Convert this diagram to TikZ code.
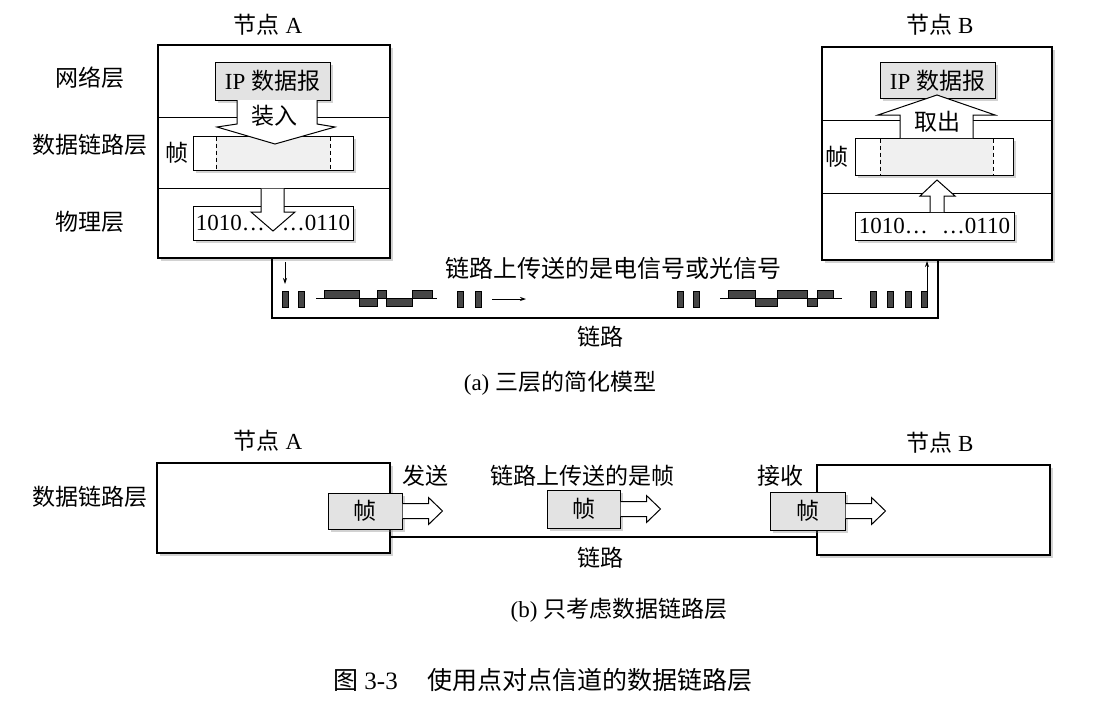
\documentclass[tikz,border=0pt]{standalone}
\usepackage{fontspec}
\setmainfont{Liberation Serif}
\newfontfamily\cjk{Noto Sans CJK SC}
\newcommand{\zh}[1]{{\cjk #1}}
\usetikzlibrary{shadows,arrows.meta}
\begin{document}
\begin{tikzpicture}[x=1pt,y=-1pt,
  lbl/.style={font=\fontsize{23}{27}\selectfont, inner sep=0},
  captxt/.style={font=\fontsize{25}{29}\selectfont, inner sep=0},
  sh/.style={drop shadow={shadow xshift=2.5pt,shadow yshift=-2.5pt,opacity=.35}},
  outer/.style={draw, line width=1.2pt, fill=white, inner sep=0, sh},
  inbox/.style={draw, line width=1pt, fill=white, inner sep=0, sh},
  gbox/.style={draw, line width=1pt, fill=gray!22, inner sep=0, sh, font=\fontsize{23}{27}\selectfont},
  harrow/.style={draw, line width=1pt, fill=white, line join=miter},
  link/.style={line width=2.4pt},
  sig/.style={fill=gray!55!black, draw=black, line width=0.4pt},
  thinarr/.style={line width=0.8pt, -{Stealth[length=6pt,width=4pt]}},
  dsh/.style={dash pattern=on 4pt off 3pt, line width=1pt},
]
\useasboundingbox (0,0) rectangle (1120,702);
\fill[white] (0,0) rectangle (1120,702);

% ===================== (a) =====================
\node[lbl] (tA) at (268,25) {\zh{节点} A};
\node[lbl] (tB) at (940,25) {\zh{节点} B};
\node[lbl] (lNet) at (90,78) {\zh{网络层}};
\node[lbl] (lDL) at (90,145) {\zh{数据链路层}};
\node[lbl] (lPh) at (90,222) {\zh{物理层}};

% Node A
\node[outer, minimum width=232pt, minimum height=213pt] (boxA) at (274,151.5) {};
\draw[line width=1pt] (boxA.west |- 0,117) -- (boxA.east |- 0,117);
\draw[line width=1pt] (boxA.west |- 0,188) -- (boxA.east |- 0,188);
\node[gbox, minimum width=115pt, minimum height=38pt] (ipA) at (272.5,81) {IP \zh{数据报}};
\node[inbox, minimum width=160pt, minimum height=34pt] (frameA) at (273,153) {};
\fill[gray!12] (216,136.5) rectangle (330,169.5);
\draw[dsh] (216,136.5) -- (216,169.5) (330,136.5) -- (330,169.5);
\draw[harrow] (237,100) -- (237,124) -- (217,127) -- (275,144) -- (335,127) -- (317,124) -- (317,100);
\node[lbl] (zr) at (274,116) {\zh{装入}};
\node[lbl] (fA) at (177,153) {\zh{帧}};
\node[inbox, minimum width=160pt, minimum height=34pt] (bitsA) at (273,223) {};
\draw[harrow] (261,188.6) -- (261,212) -- (251,212) -- (273,231) -- (295,212) -- (284,212) -- (284,188.6);
\node[lbl] (bitsAt) at (273,223) {1010…\hspace{17pt}…0110};

% Node B
\node[outer, minimum width=230pt, minimum height=213pt] (boxB) at (937,153.5) {};
\draw[line width=1pt] (boxB.west |- 0,120) -- (boxB.east |- 0,120);
\draw[line width=1pt] (boxB.west |- 0,193) -- (boxB.east |- 0,193);
\node[gbox, minimum width=115pt, minimum height=36pt] (ipB) at (937.5,80.5) {IP \zh{数据报}};
\node[inbox, minimum width=158pt, minimum height=37pt] (frameB) at (934,156.5) {};
\fill[gray!12] (880,138.5) rectangle (993,174.5);
\draw[dsh] (880,138.5) -- (880,174.5) (993,138.5) -- (993,174.5);
\draw[harrow] (900,138) -- (900,115) -- (878,115) -- (937,95) -- (995,115) -- (973,115) -- (973,138);
\node[lbl] (qc) at (937,122) {\zh{取出}};
\node[lbl] (fB) at (837,157) {\zh{帧}};
\node[inbox, minimum width=159pt, minimum height=28pt, font=\fontsize{23}{27}\selectfont] (bitsB) at (934.5,226) {1010…\hspace{14pt}…0110};
\draw[harrow] (930,212) -- (930,196) -- (920,196) -- (937,180) -- (955,196) -- (944,196) -- (944,212);

% Link (a)
\coordinate (lL) at (272,318);
\coordinate (lR) at (938,318);
\draw[link] (boxA.south -| lL) -- (lL) -- (lR) -- (boxB.south -| lR);
\coordinate (dA1) at (285,262);
\coordinate (dA2) at (285,284);
\draw[thinarr] (dA1) -- (dA2);
\coordinate (uB1) at (927,300);
\coordinate (uB2) at (927,261);
\draw[thinarr] (uB1) -- (uB2);

% signal blocks
\foreach \x in {282,298,457,475,677,693,870,887,905,921}
  \fill[sig] (\x,291) rectangle ++(6,16);
% waveforms
\draw[line width=0.8pt] (316,298) -- (437,298);
\fill[sig] (324,290) rectangle (359,298);
\fill[sig] (359,298) rectangle (377,306);
\fill[sig] (377,290) rectangle (386,298);
\fill[sig] (386,298) rectangle (412,306);
\fill[sig] (412,290) rectangle (432,298);
\draw[line width=0.8pt] (720,298) -- (842,298);
\fill[sig] (728,290) rectangle (755,298);
\fill[sig] (755,298) rectangle (777,306);
\fill[sig] (777,290) rectangle (807,298);
\fill[sig] (807,298) rectangle (817,306);
\fill[sig] (817,290) rectangle (833,298);
\coordinate (r1) at (492,299);
\coordinate (r2) at (526,299);
\draw[thinarr] (r1) -- (r2);

\node[lbl, font=\fontsize{24}{28}\selectfont] (sigtxt) at (613,268) {\zh{链路上传送的是电信号或光信号}};
\node[lbl] (linka) at (600,337) {\zh{链路}};
\node[lbl] (capa) at (560,383) {(a) \zh{三层的简化模型}};

% ===================== (b) =====================
\node[lbl] (tA2) at (268,441) {\zh{节点} A};
\node[lbl] (tB2) at (940,443) {\zh{节点} B};
\node[lbl] (lDL2) at (90,497) {\zh{数据链路层}};
\node[outer, minimum width=233pt, minimum height=90pt] (boxA2) at (273.5,508) {};
\node[outer, minimum width=233pt, minimum height=90pt] (boxB2) at (933.5,510) {};
\draw[link] (boxA2.east |- 0,537) -- (boxB2.west |- 0,537);
\node[gbox, minimum width=74pt, minimum height=36pt] (frA2) at (365,511) {\zh{帧}};
\node[gbox, minimum width=73pt, minimum height=38pt] (frM) at (583.5,509) {\zh{帧}};
\node[gbox, minimum width=75pt, minimum height=38pt] (frB2) at (807.5,511) {\zh{帧}};
\foreach \n in {frA2,frM,frB2}
  \draw[harrow] (\n.east) ++(0,-7.5) -- ++(26,0) -- ++(0,-6) -- ++(14,13.5) -- ++(-14,13.5) -- ++(0,-6) -- ++(-26,0);
\node[lbl] (fs) at (425,476) {\zh{发送}};
\node[lbl] (lt) at (582,476) {\zh{链路上传送的是帧}};
\node[lbl] (js) at (780,476) {\zh{接收}};
\node[lbl] (linkb) at (600,558) {\zh{链路}};
\node[lbl] (capb) at (619,610) {(b) \zh{只考虑数据链路层}};

\node[captxt] (fig) at (543,680) {\zh{图} 3-3\hspace{30pt}\zh{使用点对点信道的数据链路层}};
\end{tikzpicture}
\end{document}
